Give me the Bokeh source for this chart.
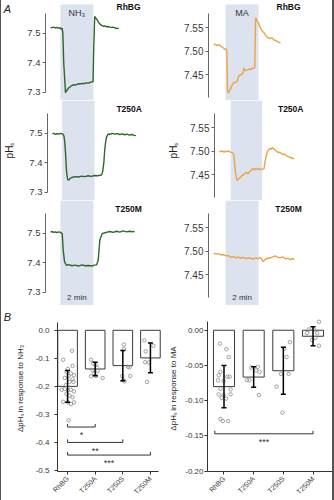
import numpy as np
from bokeh.plotting import figure
from bokeh.layouts import column, row
from bokeh.models import (Range1d, BoxAnnotation, Label, FixedTicker, Whisker, TeeHead,
                          ColumnDataSource, PrintfTickFormatter)
from bokeh.embed import file_html
from bokeh.resources import INLINE

FONT = "Liberation Sans"

# ---------------- data: panel A (time in min, pHs) ----------------
rows_titles = ["RhBG", "T250A", "T250M"]
panel_letters = ["A", "B"]
nh3_band = [0.6, 2.6]
ma_band = [0.73, 2.73]
nh3_ticks = [7.3, 7.4, 7.5]
ma_ticks = [7.45, 7.50, 7.55]

t_rhbg_nh3 = [0, 0.1, 0.2, 0.3, 0.4, 0.5, 0.6, 0.65, 0.7, 0.75, 0.8, 0.91, 0.95, 1.0, 1.1, 1.2, 1.3, 1.4,
              1.5, 1.6, 1.7, 1.8, 1.9, 2.0, 2.1, 2.2, 2.3, 2.4, 2.5, 2.58, 2.62, 2.68, 2.75, 2.83, 2.9,
              3.0, 3.1, 3.2, 3.3, 3.4, 3.5, 3.6, 3.7, 3.8, 3.9, 4.0, 4.14]
ph_rhbg_nh3 = [7.519, 7.518, 7.520, 7.517, 7.519, 7.516, 7.518, 7.512, 7.517, 7.50, 7.40, 7.298, 7.302,
               7.306, 7.314, 7.318, 7.322, 7.325, 7.323, 7.326, 7.328, 7.327, 7.329, 7.328, 7.330, 7.331,
               7.330, 7.333, 7.334, 7.335, 7.45, 7.556, 7.55, 7.545, 7.537, 7.530, 7.526, 7.523, 7.524,
               7.521, 7.522, 7.520, 7.519, 7.520, 7.517, 7.516, 7.515]

t_t250a_nh3 = [0, 0.1, 0.2, 0.3, 0.4, 0.5, 0.6, 0.67, 0.71, 0.76, 0.81, 0.87, 0.93, 0.97, 1.05, 1.11, 1.25,
               1.41, 1.6, 1.8, 2.0, 2.2, 2.4, 2.6, 2.8, 2.95, 3.03, 3.1, 3.17, 3.22, 3.27, 3.33, 3.44, 3.55,
               3.7, 3.85, 4.0, 4.15, 4.3, 4.45, 4.6, 4.75, 4.9, 5.05, 5.15]
ph_t250a_nh3 = [7.497, 7.499, 7.495, 7.498, 7.496, 7.499, 7.497, 7.495, 7.49, 7.47, 7.431, 7.37, 7.345,
                7.340, 7.343, 7.347, 7.350, 7.352, 7.351, 7.354, 7.352, 7.355, 7.353, 7.356, 7.355, 7.357,
                7.358, 7.37, 7.40, 7.44, 7.465, 7.485, 7.497, 7.495, 7.499, 7.496, 7.498, 7.495, 7.497,
                7.494, 7.496, 7.493, 7.495, 7.492, 7.491]

t_t250m_nh3 = [0, 0.1, 0.2, 0.3, 0.4, 0.5, 0.61, 0.71, 0.77, 0.85, 0.97, 1.1, 1.3, 1.5, 1.7, 1.9, 2.1, 2.3,
               2.5, 2.65, 2.79, 2.89, 2.99, 3.13, 3.3, 3.44, 3.6, 3.8, 4.0, 4.2, 4.4, 4.6, 4.8, 5.0, 5.09]
ph_t250m_nh3 = [7.503, 7.505, 7.502, 7.504, 7.501, 7.504, 7.502, 7.498, 7.442, 7.403, 7.390, 7.393, 7.389,
                7.391, 7.388, 7.392, 7.389, 7.390, 7.388, 7.391, 7.392, 7.408, 7.476, 7.498, 7.501, 7.503,
                7.505, 7.502, 7.506, 7.503, 7.507, 7.504, 7.506, 7.504, 7.506]

t_rhbg_ma = [0, 0.1, 0.2, 0.32, 0.42, 0.53, 0.6, 0.68, 0.76, 0.8, 0.85, 0.91, 0.97, 1.05, 1.13, 1.23, 1.33,
             1.44, 1.5, 1.58, 1.68, 1.78, 1.84, 1.94, 2.04, 2.14, 2.24, 2.34, 2.44, 2.5, 2.55, 2.63, 2.71,
             2.78, 2.85, 2.95, 3.05, 3.15, 3.25, 3.4, 3.56, 3.66, 3.76, 3.9, 4.06]
ph_rhbg_ma = [7.514, 7.515, 7.512, 7.514, 7.511, 7.509, 7.507, 7.504, 7.505, 7.503, 7.414, 7.411, 7.416,
              7.421, 7.428, 7.433, 7.434, 7.436, 7.445, 7.449, 7.450, 7.453, 7.464, 7.458, 7.460, 7.462,
              7.461, 7.464, 7.463, 7.466, 7.571, 7.565, 7.561, 7.555, 7.549, 7.543, 7.540, 7.534, 7.530,
              7.527, 7.528, 7.524, 7.523, 7.520, 7.518]

t_t250a_ma = [0, 0.1, 0.2, 0.3, 0.4, 0.5, 0.6, 0.7, 0.83, 0.93, 1.03, 1.13, 1.23, 1.33, 1.44, 1.55, 1.64,
              1.74, 1.84, 1.94, 2.04, 2.14, 2.24, 2.34, 2.44, 2.55, 2.65, 2.75, 2.85, 2.95, 3.05, 3.15,
              3.25, 3.32, 3.39, 3.47, 3.56, 3.66, 3.76, 3.86, 3.96, 4.06, 4.16, 4.26, 4.36, 4.46, 4.56,
              4.66, 4.77]
ph_t250a_ma = [7.500, 7.499, 7.501, 7.498, 7.500, 7.499, 7.501, 7.498, 7.497, 7.493, 7.455, 7.438, 7.441,
               7.444, 7.448, 7.450, 7.453, 7.455, 7.452, 7.457, 7.459, 7.463, 7.460, 7.464, 7.461, 7.463,
               7.460, 7.462, 7.463, 7.484, 7.498, 7.503, 7.506, 7.504, 7.508, 7.505, 7.502, 7.500, 7.497,
               7.498, 7.495, 7.493, 7.494, 7.490, 7.489, 7.488, 7.486, 7.485, 7.484]

t_t250m_ma = [0, 0.15, 0.3, 0.45, 0.6, 0.75, 0.9, 1.05, 1.2, 1.35, 1.5, 1.65, 1.8, 1.95, 2.1, 2.25, 2.4,
              2.55, 2.7, 2.85, 3.0, 3.15, 3.3, 3.45, 3.6, 3.75, 3.9, 4.05, 4.2, 4.35, 4.5, 4.65, 4.8, 4.9]
ph_t250m_ma = [7.496, 7.494, 7.495, 7.492, 7.493, 7.490, 7.491, 7.487, 7.489, 7.486, 7.488, 7.485, 7.487,
               7.484, 7.486, 7.485, 7.483, 7.486, 7.484, 7.487, 7.478, 7.483, 7.485, 7.486, 7.488, 7.490,
               7.487, 7.486, 7.488, 7.484, 7.485, 7.482, 7.484, 7.482]

# ---------------- data: panel B ----------------
categories = ["RhBG", "T250A", "T250S", "T250M"]
nh3_mean = [-0.200, -0.138, -0.126, -0.0985]
nh3_sd = [0.057, 0.024, 0.054, 0.053]
ma_mean = [-0.080, -0.0665, -0.0575, -0.0085]
ma_sd = [0.030, 0.0145, 0.0335, 0.0135]
nh3_yticks = [0.0, -0.1, -0.2, -0.3, -0.4, -0.5]
ma_yticks = [0.0, -0.05, -0.10, -0.15, -0.20]

nh3_pts = [
    [-0.073, -0.105, -0.127, -0.138, -0.148, -0.154, -0.160, -0.163, -0.170, -0.175, -0.184, -0.184, -0.195,
     -0.209, -0.212, -0.212, -0.215, -0.218, -0.227, -0.233, -0.239, -0.255, -0.257, -0.257, -0.263, -0.321],
    [-0.105, -0.118, -0.124, -0.133, -0.142, -0.145, -0.154, -0.163, -0.164, -0.170],
    [-0.051, -0.067, -0.130, -0.132, -0.163, -0.163, -0.178, -0.182],
    [-0.036, -0.055, -0.075, -0.114, -0.115, -0.184],
]
nh3_jit = [
    [0.16, -0.16, 0.18, 0.01, -0.04, 0.12, 0.23, 0.04, -0.10, 0.18, 0.07, 0.21, -0.06,
     -0.10, -0.21, 0.12, 0.01, 0.23, -0.04, 0.07, 0.18, -0.16, 0.01, 0.23, 0.12, 0.04],
    [-0.15, -0.07, 0.01, 0.07, -0.10, 0.09, -0.04, 0.03, -0.15, 0.27],
    [0.04, 0.04, 0.18, 0.24, -0.02, 0.27, 0.01, 0.06],
    [-0.22, 0.11, -0.17, -0.19, -0.06, -0.12],
]
ma_pts = [
    [-0.019, -0.027, -0.038, -0.059, -0.064, -0.066, -0.066, -0.071, -0.072, -0.083, -0.084, -0.091,
     -0.092, -0.091, -0.096, -0.097, -0.126, -0.129, -0.129],
    [-0.053, -0.052, -0.057, -0.071, -0.071, -0.059, -0.092],
    [-0.017, -0.026, -0.038, -0.062, -0.062, -0.080, -0.117],
    [0.012, 0.001, 0.001, -0.004, -0.004, -0.011, -0.014, -0.022],
]
ma_jit = [
    [-0.14, 0.08, 0.16, -0.12, -0.18, 0.11, 0.19, -0.20, -0.01, -0.12, 0.22, -0.18, -0.01, 0.22, -0.08,
     0.07, -0.12, -0.04, 0.14],
    [-0.08, 0.14, 0.08, -0.23, -0.14, 0.20, 0.18],
    [0.22, 0.03, 0.11, -0.08, 0.18, -0.23, -0.03],
    [0.20, -0.14, 0.03, 0.14, -0.20, 0.08, -0.03, 0.20],
]
nh3_brackets = [(0, 1, -0.345, "*"), (0, 2, -0.400, "**"), (0, 3, -0.445, "***")]
ma_brackets = [(0, 3, -0.147, "***")]

GREEN = "#2c6829"
ORANGE = "#eba345"
BAND = "#dde2ef"
TXT = "#3a3a3a"


def style_y(ax, size):
    ax.major_label_text_font = FONT
    ax.major_label_text_font_size = size
    ax.major_label_text_color = TXT
    ax.axis_line_color = "#666666"
    ax.major_tick_line_color = "#666666"
    ax.major_tick_out = 3
    ax.major_tick_in = 0
    ax.minor_tick_line_color = None
    ax.major_label_standoff = 2
    ax.axis_label_text_font = FONT
    ax.axis_label_text_font_style = "normal"
    ax.axis_label_text_color = "#222222"


def letter_fig(h, letter, y_px):
    p = figure(width=11, height=h, x_range=Range1d(0, 11), y_range=Range1d(h, 0),
               output_backend="svg", toolbar_location=None,
               min_border_left=0, min_border_right=0, min_border_top=0, min_border_bottom=0)
    p.outline_line_color = None
    p.grid.visible = False
    p.xaxis.visible = False
    p.yaxis.visible = False
    p.add_layout(Label(x=6, y=y_px, text=letter, text_font=FONT, text_font_style="italic",
                       text_font_size="11px", text_align="center", text_baseline="middle",
                       text_color="#222222"))
    return p


def trace_panel(w, h, bl, xr, yr, ppu, ticks, fmt, bounds, t, ph, color, band, band_top_px,
                title, title_t, tick_size, title_px):
    p = figure(width=w, height=h, x_range=Range1d(*xr), y_range=Range1d(*yr),
               output_backend="svg", toolbar_location=None,
               min_border_left=bl, min_border_right=0, min_border_top=0, min_border_bottom=0)
    p.outline_line_color = None
    p.grid.visible = False
    p.xaxis.visible = False
    style_y(p.yaxis[0], tick_size)
    p.yaxis.ticker = FixedTicker(ticks=ticks)
    p.yaxis.formatter = PrintfTickFormatter(format=fmt)
    p.yaxis.bounds = bounds
    box = BoxAnnotation(left=band[0], right=band[1], fill_color=BAND, fill_alpha=1.0,
                        line_color=None, level="underlay")
    if band_top_px is not None:
        box.top = yr[1] - band_top_px / ppu
    p.add_layout(box)
    p.line(t, ph, line_color=color, line_width=1.4)
    p.add_layout(Label(x=title_t, y=yr[1] - title_px / ppu, text=title, text_font=FONT,
                       text_font_style="bold", text_font_size="8.5px", text_align="center",
                       text_baseline="middle", text_color="#111111"))
    return p


# ---------- panel A ----------
L_PPU, R_PPU = 295.0, 470.0
L_TOP, R_TOP = 7.6102, 7.6079
heights = [100, 100, 105]
left_data = [(t_rhbg_nh3, ph_rhbg_nh3), (t_t250a_nh3, ph_t250a_nh3), (t_t250m_nh3, ph_t250m_nh3)]
right_data = [(t_rhbg_ma, ph_rhbg_ma), (t_t250a_ma, ph_t250a_ma), (t_t250m_ma, ph_t250m_ma)]
title_px = [6, 8, 8]

rows_A = []
for i in range(3):
    h = heights[i]
    lw, lb = (153, 33) if i == 0 else (164, 44)
    lp = trace_panel(lw, h, lb, (-0.303, 6.97), (L_TOP - h / L_PPU, L_TOP), L_PPU, nh3_ticks, "%.1f",
                     (7.298, 7.565), left_data[i][0], left_data[i][1], GREEN, nh3_band,
                     4 if i == 0 else None, rows_titles[i], 4.73, "9.5px", title_px[i])
    rp = trace_panel(167, h, 43, (-0.303, 7.212), (R_TOP - h / R_PPU, R_TOP), R_PPU, ma_ticks, "%.2f",
                     (7.401, 7.58), right_data[i][0], right_data[i][1], ORANGE, ma_band,
                     4 if i == 0 else None, rows_titles[i], 4.55, "10px", title_px[i])
    if i == 0:
        lp.add_layout(Label(x=sum(nh3_band) / 2, y=L_TOP - 12 / L_PPU, text="NH₃", text_font=FONT,
                            text_font_size="9px", text_align="center", text_baseline="middle",
                            text_color="#333333"))
        rp.add_layout(Label(x=sum(ma_band) / 2, y=R_TOP - 12 / R_PPU, text="MA", text_font=FONT,
                            text_font_size="9px", text_align="center", text_baseline="middle",
                            text_color="#333333"))
    if i == 1:
        lp.yaxis.axis_label = "pHₛ"
        lp.yaxis.axis_label_text_font_size = "10px"
        lp.yaxis.axis_label_standoff = 11
        rp.yaxis.axis_label = "pHₛ"
        rp.yaxis.axis_label_text_font_size = "10px"
        rp.yaxis.axis_label_standoff = 8
    if i == 2:
        lbot = L_TOP - h / L_PPU
        rbot = R_TOP - h / R_PPU
        lp.add_layout(Label(x=sum(nh3_band) / 2, y=lbot + 8 / L_PPU, text="2 min", text_font=FONT,
                            text_font_size="8px", text_align="center", text_baseline="middle",
                            text_color="#333333"))
        rp.add_layout(Label(x=sum(ma_band) / 2, y=rbot + 8 / R_PPU, text="2 min", text_font=FONT,
                            text_font_size="8px", text_align="center", text_baseline="middle",
                            text_color="#333333"))
    if i == 0:
        rows_A.append(row(letter_fig(h, panel_letters[0], 8), lp, rp))
    else:
        rows_A.append(row(lp, rp))


# ---------- panel B ----------
def bar_panel(w, bl, xr, yr, ppu, ybounds, xbounds, yticks, fmt, means, sds, pts, jit, brackets,
              bracket_start_off, ylabel, ystd, ylab_standoff):
    p = figure(width=w, height=195, x_range=Range1d(*xr), y_range=Range1d(*yr),
               output_backend="svg", toolbar_location=None,
               min_border_left=bl, min_border_right=0, min_border_top=0, min_border_bottom=25)
    p.outline_line_color = None
    p.grid.visible = False
    idx = list(range(len(categories)))
    for ax in (p.yaxis[0], p.xaxis[0]):
        style_y(ax, "8px")
        ax.axis_line_color = "#333333"
        ax.major_tick_line_color = "#333333"
    p.yaxis.ticker = FixedTicker(ticks=yticks)
    p.yaxis.formatter = PrintfTickFormatter(format=fmt)
    p.yaxis.bounds = ybounds
    p.yaxis.major_label_standoff = ylab_standoff
    p.yaxis.axis_label = ylabel
    p.yaxis.axis_label_text_font_size = "8px"
    p.yaxis.axis_label_standoff = ystd
    p.xaxis.ticker = FixedTicker(ticks=idx)
    p.xaxis.major_label_overrides = {i: c for i, c in enumerate(categories)}
    p.xaxis.major_label_orientation = np.pi / 4
    p.xaxis.major_label_text_font_size = "7px"
    p.xaxis.major_label_standoff = 3
    p.xaxis.axis_label_standoff = 0
    p.xaxis.bounds = xbounds

    p.vbar(x=idx, width=0.71, top=[0] * len(idx), bottom=means, fill_color="white",
           line_color="#3a3a3a", line_width=1)
    xs, ys = [], []
    for i in idx:
        xs += [i + j for j in jit[i]]
        ys += pts[i]
    p.scatter(xs, ys, marker="circle", size=3.5, fill_color=None, line_color="#8a8a8a", line_width=0.8)
    src = ColumnDataSource(dict(x=idx, upper=[m + s for m, s in zip(means, sds)],
                                lower=[m - s for m, s in zip(means, sds)]))
    wk = Whisker(source=src, base="x", upper="upper", lower="lower", line_color="black",
                 line_width=1.5, level="overlay",
                 upper_head=TeeHead(size=5, line_color="black", line_width=1.5),
                 lower_head=TeeHead(size=5, line_color="black", line_width=1.5))
    p.add_layout(wk)
    tick = 3 / ppu
    for a, b, y, txt in brackets:
        x0 = a + bracket_start_off
        p.segment(x0=[x0, x0, b], y0=[y, y, y], x1=[b, x0, b], y1=[y, y + tick, y + tick],
                  line_color="#333333", line_width=1)
        p.add_layout(Label(x=(x0 + b) / 2, y=y - 3 / ppu, text=txt, text_font=FONT,
                           text_font_size="9px", text_align="center", text_baseline="top",
                           text_color="#333333"))
    return p


bl = bar_panel(153, 35, (-0.365, 3.546), (-0.5036, 0.0884), 275.4, (-0.5036, 0.026), (-0.365, 3.28),
               nh3_yticks, "%.1f", nh3_mean, nh3_sd, nh3_pts, nh3_jit, nh3_brackets, 0.0,
               "ΔpHₛ in response to NH₃", 8, 5)
br = bar_panel(167, 42, (-0.556, 3.657), (-0.2005, 0.0351), 692.0, (-0.2005, 0.012), (-0.556, 3.657),
               ma_yticks, "%.2f", ma_mean, ma_sd, ma_pts, ma_jit, ma_brackets, -0.31,
               "ΔpHₛ in response to MA", 4, 1)

layout = column(*rows_A, row(letter_fig(195, panel_letters[1], 13), bl, br),
                styles={"border-left": "1px solid #555555", "border-right": "2px solid #555555"})

open("out.html", "w").write(file_html(layout, INLINE))
